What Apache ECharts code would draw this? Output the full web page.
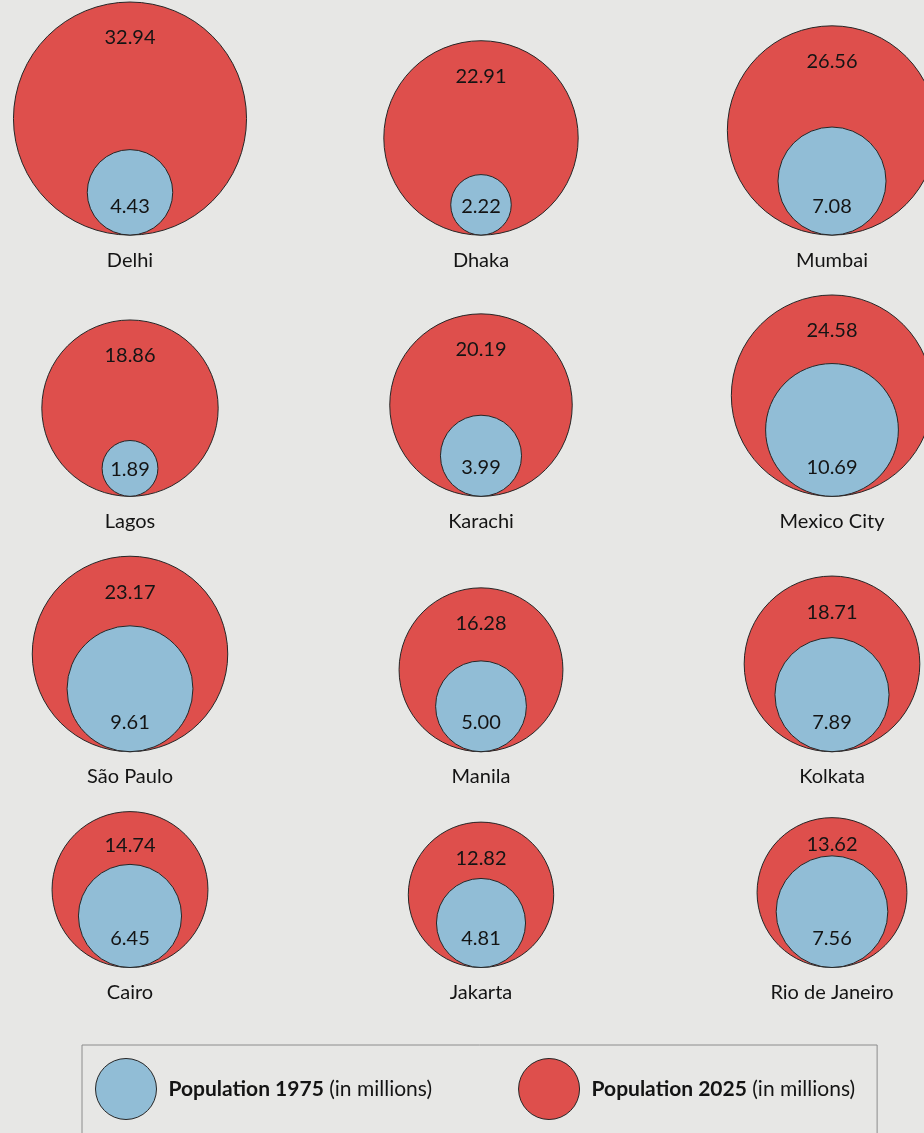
<!DOCTYPE html>
<html>
<head>
<meta charset="utf-8">
<script src="https://cdn.jsdelivr.net/npm/echarts@6/dist/echarts.min.js"></script>
<style>
  html, body { margin: 0; padding: 0; background: #e7e7e5; }
  #chart { width: 924px; height: 1133px; }
</style>
</head>
<body>
<div id="chart"></div>
<script>
// ---- Data ----
const cities = ['Delhi', 'Dhaka', 'Mumbai', 'Lagos', 'Karachi', 'Mexico City',
                'São Paulo', 'Manila', 'Kolkata', 'Cairo', 'Jakarta', 'Rio de Janeiro'];
const pop1975 = [4.43, 2.22, 7.08, 1.89, 3.99, 10.69, 9.61, 5.00, 7.89, 6.45, 4.81, 7.56];
const pop2025 = [32.94, 22.91, 26.56, 18.86, 20.19, 24.58, 23.17, 16.28, 18.71, 14.74, 12.82, 13.62];
const seriesNames = ['Population 1975', 'Population 2025'];
const unitNote = '(in millions)';

// ---- Style ----
const RED = '#de4f4c';
const BLUE = '#91bdd6';
const STROKE = '#262626';
const TEXT = '#141414';
const FONT = 'Lato, "Open Sans", sans-serif';
const LABEL_SIZE = 20;
const COLS = 3;

// ---- Layout (in radius units: sqrt of millions) ----
const TOP_PAD = 0.1, ROW_GAP = 2.95;
const nRows = Math.ceil(cities.length / COLS);
const rowBase = [];
for (let r = 0; r < nRows; r++) {
  let m = 0;
  for (let c = 0; c < COLS; c++) {
    const i = r * COLS + c;
    if (i < cities.length) m = Math.max(m, Math.sqrt(pop2025[i]));
  }
  rowBase.push((r === 0 ? TOP_PAD : rowBase[r - 1] + ROW_GAP) + 2 * m);
}
const items = cities.map((c, i) => [i % COLS, rowBase[Math.floor(i / COLS)], pop2025[i], pop1975[i], i]);

function geom(api) {
  const p = api.coord([api.value(0), api.value(1)]);
  const R = api.size([0, Math.sqrt(api.value(2))])[1];
  const rb = api.size([0, Math.sqrt(api.value(3))])[1];
  return { x: p[0], bottom: p[1], R, rb };
}

function renderRed(params, api) {
  const g = geom(api);
  const redTop = g.bottom - 2 * g.R;
  const blueTop = g.bottom - 2 * g.rb;
  const labelY = Math.min(redTop + 36, (redTop + blueTop) / 2 + 8);
  return {
    type: 'group',
    children: [
      { type: 'circle', shape: { cx: g.x, cy: g.bottom - g.R, r: g.R },
        style: { fill: RED, stroke: STROKE, lineWidth: 1 } },
      { type: 'text', style: { text: api.value(2).toFixed(2), x: g.x, y: labelY,
        align: 'center', verticalAlign: 'middle', fontSize: LABEL_SIZE, fontFamily: FONT, fill: TEXT } },
      { type: 'text', style: { text: cities[api.value(4)], x: g.x, y: g.bottom + 25,
        align: 'center', verticalAlign: 'middle', fontSize: LABEL_SIZE, fontFamily: FONT, fill: TEXT } }
    ]
  };
}

function renderBlue(params, api) {
  const g = geom(api);
  const labelY = g.bottom - Math.min(29, g.rb - 1);
  return {
    type: 'group',
    children: [
      { type: 'circle', shape: { cx: g.x, cy: g.bottom - g.rb, r: g.rb },
        style: { fill: BLUE, stroke: STROKE, lineWidth: 1 } },
      { type: 'text', style: { text: api.value(3).toFixed(2), x: g.x, y: labelY,
        align: 'center', verticalAlign: 'middle', fontSize: LABEL_SIZE, fontFamily: FONT, fill: TEXT } }
    ]
  };
}

const chart = echarts.init(document.getElementById('chart'), null, { renderer: 'canvas' });
chart.setOption({
  backgroundColor: '#e7e7e5',
  animation: false,
  grid: { left: 130, right: 92, top: 0, bottom: 0, containLabel: false },
  xAxis: { type: 'value', min: 0, max: COLS - 1, show: false },
  yAxis: { type: 'value', min: 0, max: 55.8, inverse: true, show: false },
  legend: {
    left: 82, top: 1045,
    padding: [13, 22, 40, 13],
    borderColor: '#8c8c8c', borderWidth: 1,
    itemWidth: 61, itemHeight: 61, itemGap: 86,
    icon: 'circle',
    selectedMode: false,
    data: [
      { name: seriesNames[0], itemStyle: { color: BLUE, borderColor: STROKE, borderWidth: 1 } },
      { name: seriesNames[1], itemStyle: { color: RED, borderColor: STROKE, borderWidth: 1 } }
    ],
    formatter: n => `{b|${n}} {n|${unitNote}}`,
    textStyle: {
      color: TEXT, fontFamily: FONT, fontSize: 21, padding: [0, 0, 0, 7],
      rich: {
        b: { fontWeight: 'bold', fontSize: 21, fontFamily: FONT, color: TEXT },
        n: { fontSize: 21, fontFamily: FONT, color: TEXT }
      }
    }
  },
  series: [
    { name: seriesNames[1], type: 'custom', renderItem: renderRed, data: items, clip: false,
      itemStyle: { color: RED }, encode: { x: 0, y: 1 } },
    { name: seriesNames[0], type: 'custom', renderItem: renderBlue, data: items, clip: false,
      itemStyle: { color: BLUE }, encode: { x: 0, y: 1 } }
  ]
});
</script>
</body>
</html>
